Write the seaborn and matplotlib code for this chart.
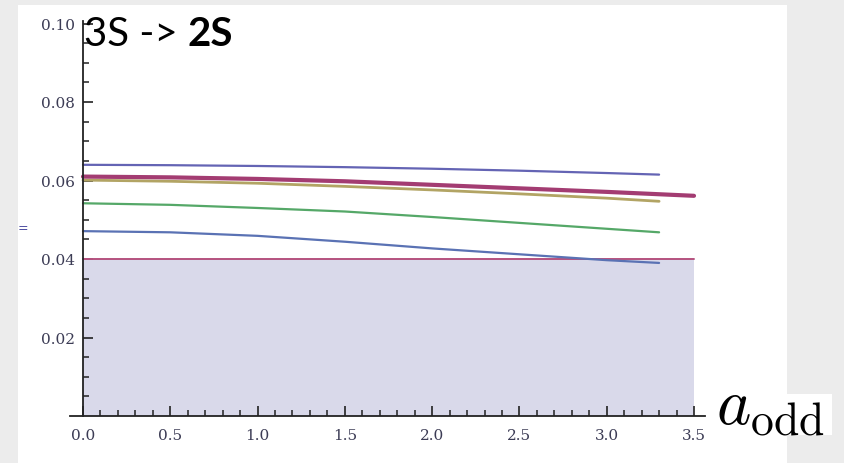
import numpy as np
import pandas as pd
import matplotlib
matplotlib.use("Agg")
import matplotlib.pyplot as plt
from matplotlib.patches import Rectangle
import seaborn as sns

# Curve samples: a_odd on the x axis
a_odd = [0.0, 0.5, 1.0, 1.5, 2.0, 2.5, 3.0, 3.3]
a_odd_long = [0.0, 0.5, 1.0, 1.5, 2.0, 2.5, 3.0, 3.5]

curve_top = [0.0640, 0.0639, 0.0637, 0.0634, 0.0630, 0.0625, 0.0619, 0.0615]
curve_thick = [0.0610, 0.0608, 0.0604, 0.0598, 0.0589, 0.0580, 0.0571, 0.0561]
curve_olive = [0.0601, 0.0598, 0.0593, 0.0585, 0.0576, 0.0566, 0.0555, 0.0547]
curve_green = [0.0542, 0.0538, 0.0530, 0.0521, 0.0507, 0.0492, 0.0477, 0.0468]
curve_blue = [0.0471, 0.0468, 0.0459, 0.0444, 0.0427, 0.0412, 0.0397, 0.0390]

bound_x = [0.0, 3.5]
bound_y = [0.04, 0.04]

x_ticks = [0.0, 0.5, 1.0, 1.5, 2.0, 2.5, 3.0, 3.5]
x_tick_labels = ["0.0", "0.5", "1.0", "1.5", "2.0", "2.5", "3.0", "3.5"]
y_ticks = [0.02, 0.04, 0.06, 0.08, 0.10]
y_tick_labels = ["0.02", "0.04", "0.06", "0.08", "0.10"]

sns.set_style("ticks")
plt.rcParams["mathtext.fontset"] = "cm"

W, H = 845, 464
fig = plt.figure(figsize=(W / 100, H / 100), dpi=100)
fig.patch.set_facecolor("#ececec")

# white slide panel behind the plot
fig.patches.append(Rectangle((18 / W, 0), (787 - 18) / W, (H - 6) / H,
                             transform=fig.transFigure, facecolor="white",
                             edgecolor="none", zorder=-10))
# white box behind the axis label
fig.patches.append(Rectangle((700 / W, 1 - 436 / H), (832 - 700) / W, 41 / H,
                             transform=fig.transFigure, facecolor="white",
                             edgecolor="none", zorder=-9))

ax = fig.add_axes([70 / W, 47 / H, 635 / W, (417 - 22) / H])
ax.set_facecolor("none")
ax.set_axisbelow(False)

# shaded allowed region below the bound
ax.fill_between(bound_x, 0, bound_y, color="#d9d9ea", lw=0, zorder=1)

sns.lineplot(x=bound_x, y=bound_y, ax=ax, color="#b5527f", lw=1.4, zorder=3)
sns.lineplot(x=a_odd, y=curve_blue, ax=ax, color="#5a72b4", lw=1.6, zorder=3)
sns.lineplot(x=a_odd, y=curve_green, ax=ax, color="#55a868", lw=1.6, zorder=3)
sns.lineplot(x=a_odd, y=curve_olive, ax=ax, color="#b2a464", lw=2.0, zorder=3)
sns.lineplot(x=a_odd_long, y=curve_thick, ax=ax, color="#a33c72", lw=3.0, zorder=4)
sns.lineplot(x=a_odd, y=curve_top, ax=ax, color="#6464b4", lw=1.6, zorder=4)

ax.set_xlim(-13 / 174.6, 3.5 + 11 / 174.6)
ax.set_ylim(0, (417 - 22) / 3925)

for s in ("top", "right"):
    ax.spines[s].set_visible(False)
ax.spines["left"].set_position(("data", 0))
ax.spines["bottom"].set_position(("data", 0))
for s in ("left", "bottom"):
    ax.spines[s].set_linewidth(1.3)
    ax.spines[s].set_color("#222222")
    ax.spines[s].set_zorder(5)

ax.set_xticks(x_ticks)
ax.set_xticklabels(x_tick_labels)
ax.set_xticks(np.arange(0.1, 3.55, 0.1), minor=True)
ax.set_yticks(y_ticks)
ax.set_yticklabels(y_tick_labels)
ax.set_yticks(np.arange(0.005, 0.1, 0.005), minor=True)

ax.tick_params(which="major", direction="in", length=7, width=1.2,
               color="#222222", labelsize=11, labelcolor="#3c3c55", pad=9)
ax.tick_params(which="minor", direction="in", length=4.5, width=1.1,
               color="#222222")
ax.tick_params(axis="y", which="major", pad=6)
for lab in ax.get_xticklabels() + ax.get_yticklabels():
    lab.set_family("DejaVu Serif")
ax.set_xlabel("")
ax.set_ylabel("")

# transition title, second part in bold
fig.canvas.draw()
t1 = fig.text(84 / W, 1 - 46 / H, "3S -> ", fontsize=29, family="Lato",
              va="baseline", ha="left", color="black")
fig.canvas.draw()
bb = t1.get_window_extent()
fig.text(bb.x1 / W, 1 - 46 / H, "2S", fontsize=29, family="Lato",
         fontweight="bold", va="baseline", ha="left", color="black")

fig.text(716 / W, 1 - 424 / H, r"$a_{\mathrm{odd}}$", fontsize=47,
         va="baseline", ha="left", color="black")

fig.text(18 / W, 1 - 229 / H, "=", fontsize=9, color="#4a4aa0",
         va="center", ha="left")

fig.savefig("out.png", dpi=100, facecolor=fig.get_facecolor())
